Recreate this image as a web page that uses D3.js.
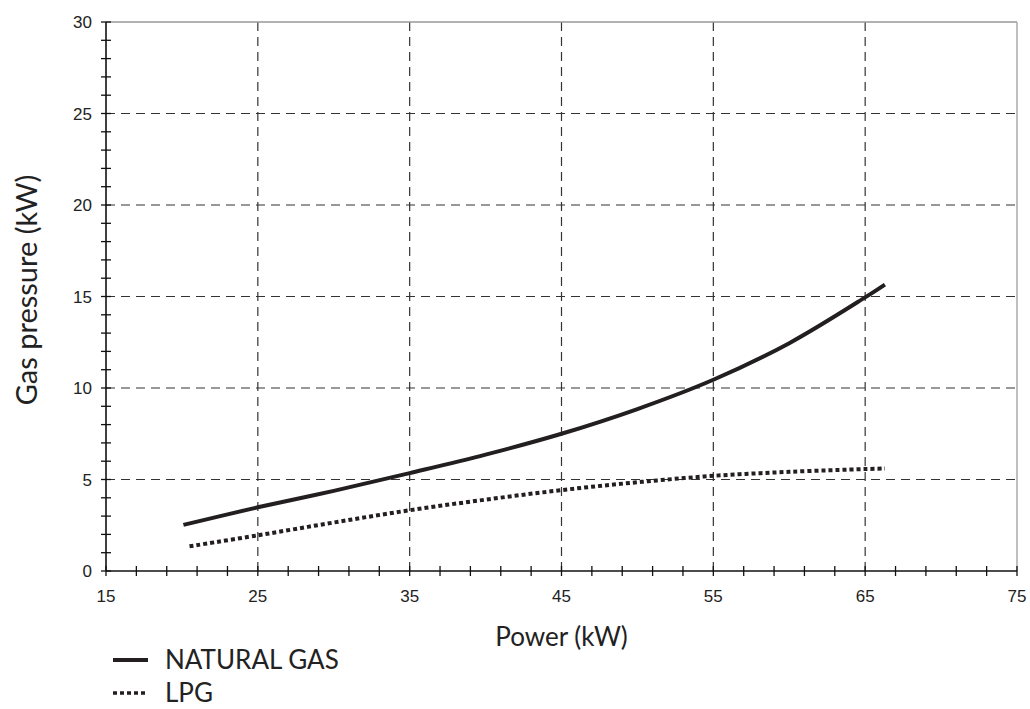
<!DOCTYPE html>
<html>
<head>
<meta charset="utf-8">
<script src="https://cdn.jsdelivr.net/npm/d3@7"></script>
<style>
  body { margin: 0; background: #fff; }
  .tick-label { font-family: "Liberation Sans", Arial, sans-serif; font-size: 17px; fill: #222; }
  .title { font-family: Lato, "Noto Sans", sans-serif; fill: #222; }
</style>
</head>
<body>
<div id="chart"></div>
<script>
// power (kW) vs gas pressure
let gasPower = [20.1, 25, 30, 35, 40, 45, 50, 55, 60, 65, 66.3];
let gasPressure = [2.52, 3.48, 4.38, 5.35, 6.36, 7.5, 8.85, 10.45, 12.45, 14.95, 15.65];
let lpgPower = [20.5, 25, 30, 35, 40, 45, 50, 55, 60, 65, 66.3];
let lpgPressure = [1.35, 1.95, 2.65, 3.32, 3.9, 4.42, 4.85, 5.2, 5.42, 5.57, 5.6];

let xTicks = [15, 25, 35, 45, 55, 65, 75];
let yTicks = [0, 5, 10, 15, 20, 25, 30];
let legendNames = ["NATURAL GAS", "LPG"];

let margin = { top: 22, right: 13, bottom: 138, left: 106 };
let width = 1030 - margin.left - margin.right,
    height = 709 - margin.top - margin.bottom;

let svg = d3.select("#chart").append("svg")
    .attr("width", 1030)
    .attr("height", 709);

let g = svg.append("g")
    .attr("transform", "translate(" + margin.left + "," + margin.top + ")");

let x = d3.scaleLinear().domain([15, 75]).range([0, width]);
let y = d3.scaleLinear().domain([0, 30]).range([height, 0]);

// grid
g.selectAll(".vgrid")
    .data(xTicks.slice(1, -1))
    .enter().append("line")
    .attr("x1", d => x(d)).attr("x2", d => x(d))
    .attr("y1", 0).attr("y2", height)
    .style("stroke", "#333").style("stroke-width", 1.2)
    .style("stroke-dasharray", "9,6");
g.selectAll(".hgrid")
    .data(yTicks.slice(1, -1))
    .enter().append("line")
    .attr("x1", 0).attr("x2", width)
    .attr("y1", d => y(d)).attr("y2", d => y(d))
    .style("stroke", "#333").style("stroke-width", 1.2)
    .style("stroke-dasharray", "9,6");

// frame top and right
g.append("line")
    .attr("x1", 0).attr("x2", width).attr("y1", y(30)).attr("y2", y(30))
    .style("stroke", "#999").style("stroke-width", 1.5);
g.append("line")
    .attr("x1", x(75)).attr("x2", x(75)).attr("y1", 0).attr("y2", height)
    .style("stroke", "#aaa").style("stroke-width", 1.5);

// minor/major ticks crossing the axes
let xMinor = d3.range(15, 75.1, 2);
let yMinor = d3.range(0, 30.1, 1);
g.selectAll(".xtick")
    .data(xMinor)
    .enter().append("line")
    .attr("x1", d => x(d)).attr("x2", d => x(d))
    .attr("y1", height - 5).attr("y2", height + 5)
    .style("stroke", "#111").style("stroke-width", 1.3);
g.selectAll(".ytick")
    .data(yMinor)
    .enter().append("line")
    .attr("x1", -5).attr("x2", 5)
    .attr("y1", d => y(d)).attr("y2", d => y(d))
    .style("stroke", "#111").style("stroke-width", 1.3);

g.append("line")
    .attr("x1", 0).attr("x2", width).attr("y1", height).attr("y2", height)
    .style("stroke", "#111").style("stroke-width", 1.6);
g.append("line")
    .attr("x1", 0).attr("x2", 0).attr("y1", 0).attr("y2", height)
    .style("stroke", "#111").style("stroke-width", 1.6);

// tick labels
g.selectAll(".xlabel")
    .data(xTicks)
    .enter().append("text")
    .attr("class", "tick-label")
    .attr("x", d => x(d))
    .attr("y", height + 31)
    .style("text-anchor", "middle")
    .text(d => d);
g.selectAll(".ylabel")
    .data(yTicks)
    .enter().append("text")
    .attr("class", "tick-label")
    .attr("x", -14)
    .attr("y", d => y(d) + 6)
    .style("text-anchor", "end")
    .text(d => d);

// axis titles
svg.append("text")
    .attr("class", "title")
    .attr("x", margin.left + x(45))
    .attr("y", 646)
    .style("font-size", "26px")
    .style("text-anchor", "middle")
    .text("Power (kW)");
svg.append("text")
    .attr("class", "title")
    .attr("transform", "translate(37,290) rotate(-90)")
    .style("font-size", "29px")
    .style("text-anchor", "middle")
    .text("Gas pressure (kW)");

// curves
let line = d3.line()
    .x(d => x(d[0]))
    .y(d => y(d[1]))
    .curve(d3.curveCatmullRom);

g.append("path")
    .datum(d3.zip(gasPower, gasPressure))
    .attr("d", line)
    .style("fill", "none")
    .style("stroke", "#231f20")
    .style("stroke-width", 4);
g.append("path")
    .datum(d3.zip(lpgPower, lpgPressure))
    .attr("d", line)
    .style("fill", "none")
    .style("stroke", "#231f20")
    .style("stroke-width", 4)
    .style("stroke-dasharray", "4,3");

// legend
let legend = svg.append("g");
legend.append("line")
    .attr("x1", 113).attr("x2", 148).attr("y1", 660).attr("y2", 660)
    .style("stroke", "#231f20").style("stroke-width", 4);
legend.append("line")
    .attr("x1", 113).attr("x2", 148).attr("y1", 693).attr("y2", 693)
    .style("stroke", "#231f20").style("stroke-width", 3.5)
    .style("stroke-dasharray", "4,3");
legend.selectAll(".lt")
    .data(legendNames)
    .enter().append("text")
    .attr("class", "title")
    .attr("x", 165)
    .attr("y", (d, i) => 669 + i * 33)
    .style("font-size", "26px")
    .text(d => d);
</script>
</body>
</html>
